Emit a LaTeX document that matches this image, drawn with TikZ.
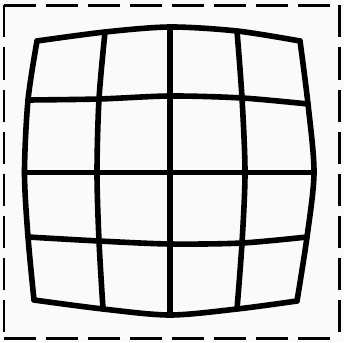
\documentclass[tikz,border=0pt]{standalone}
\begin{document}
\begin{tikzpicture}[x=1pt,y=-1pt,
  gridline/.style={line width=5.6pt, line cap=round, line join=miter},
  frameline/.style={line width=2.6pt, dash pattern=on 32pt off 10pt}]
\fill[black!2] (0,0) rectangle (344,342);
\useasboundingbox (0,0) rectangle (344,342);
% dashed frame
\coordinate (f1) at (4,5.5);
\coordinate (f2) at (339.5,5.5);
\coordinate (f3) at (339.5,338.5);
\coordinate (f4) at (4,338.5);
\draw[frameline] (f1) -- (f2);
\draw[frameline] (f1) -- (f4);
\draw[frameline] (f4) -- (f3);
\draw[frameline] (f2) -- (f3);
% lattice points (row, column)
\coordinate (a00) at (37,41);  \coordinate (a01) at (105,32); \coordinate (a02) at (170,27);  \coordinate (a03) at (237,31);  \coordinate (a04) at (300,41);
\coordinate (a10) at (28,100); \coordinate (a11) at (99,99);  \coordinate (a12) at (170,96);  \coordinate (a13) at (242,98);  \coordinate (a14) at (308,104);
\coordinate (a20) at (24.5,172.5); \coordinate (a21) at (97,172.5); \coordinate (a22) at (170,172.5); \coordinate (a23) at (245,172.5); \coordinate (a24) at (314,172.5);
\coordinate (a30) at (28,237); \coordinate (a31) at (99,241); \coordinate (a32) at (170,244); \coordinate (a33) at (242,243); \coordinate (a34) at (307,237);
\coordinate (a40) at (34,300); \coordinate (a41) at (103,309);\coordinate (a42) at (170,315); \coordinate (a43) at (237,309); \coordinate (a44) at (297,301);
% outer border
\draw[gridline] plot[smooth] coordinates {(a00) (a01) (a02) (a03) (a04)};
\draw[gridline] plot[smooth] coordinates {(a40) (a41) (a42) (a43) (a44)};
\draw[gridline] plot[smooth] coordinates {(a00) (a10) (a20) (a30) (a40)};
\draw[gridline] plot[smooth] coordinates {(a04) (a14) (a24) (a34) (a44)};
% inner rows
\draw[gridline] plot[smooth] coordinates {(a10) (a11) (a12) (a13) (a14)};
\draw[gridline] plot[smooth] coordinates {(a20) (a21) (a22) (a23) (a24)};
\draw[gridline] plot[smooth] coordinates {(a30) (a31) (a32) (a33) (a34)};
% inner columns
\draw[gridline] plot[smooth] coordinates {(a01) (a11) (a21) (a31) (a41)};
\draw[gridline] plot[smooth] coordinates {(a02) (a12) (a22) (a32) (a42)};
\draw[gridline] plot[smooth] coordinates {(a03) (a13) (a23) (a33) (a43)};
\end{tikzpicture}
\end{document}
